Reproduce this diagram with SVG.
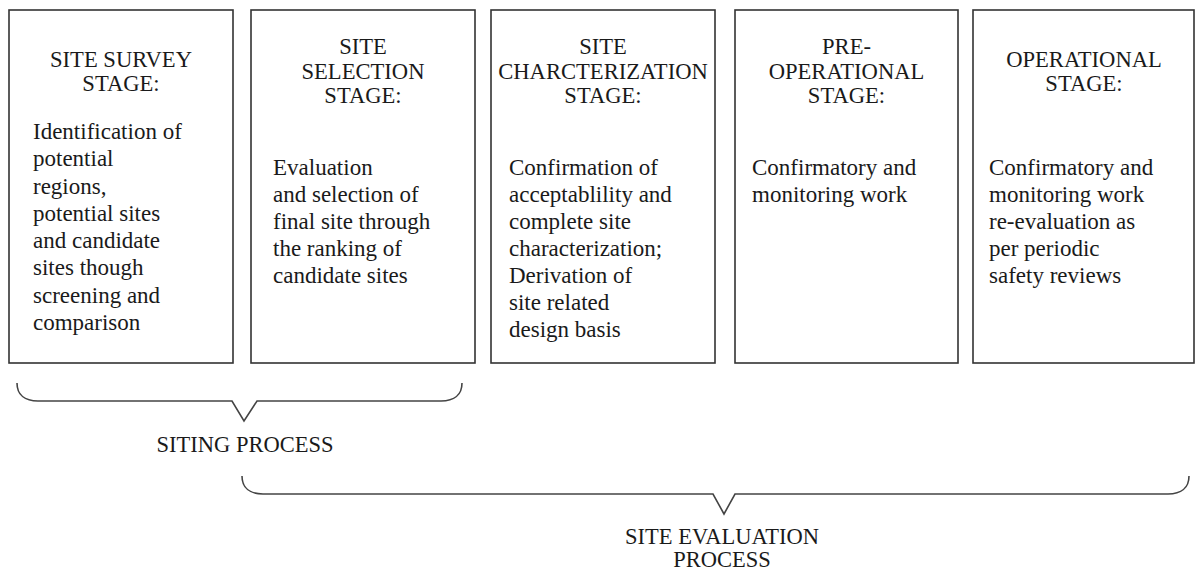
<svg xmlns="http://www.w3.org/2000/svg" width="1196" height="570" viewBox="0 0 1196 570">
<style>
.box{fill:#fff;stroke:#333;stroke-width:1.6}
.t{font-family:"Liberation Serif","Times New Roman",serif;font-size:22.6px;fill:#1a1a1a;text-anchor:middle}
.b{font-family:"Liberation Serif","Times New Roman",serif;font-size:23px;fill:#1a1a1a}
.br{fill:none;stroke:#444;stroke-width:1.6;stroke-linejoin:miter}
.l{font-family:"Liberation Serif","Times New Roman",serif;font-size:22.5px;fill:#1a1a1a;text-anchor:middle}
</style>
<rect width="1196" height="570" fill="#fff"/>
<g id="survey">
<rect class="box" x="9" y="10" width="224" height="353"/>
<text class="t" x="121" y="67">SITE SURVEY</text>
<text class="t" x="121" y="91">STAGE:</text>
<text class="b" x="33" y="139">Identification of</text>
<text class="b" x="33" y="166">potential</text>
<text class="b" x="33" y="193.5">regions,</text>
<text class="b" x="33" y="221">potential sites</text>
<text class="b" x="33" y="248">and candidate</text>
<text class="b" x="33" y="275">sites though</text>
<text class="b" x="33" y="302.5">screening and</text>
<text class="b" x="33" y="330">comparison</text>
</g>
<g id="selection">
<rect class="box" x="251" y="10" width="224" height="353"/>
<text class="t" x="363" y="54">SITE</text>
<text class="t" x="363" y="79">SELECTION</text>
<text class="t" x="363" y="103">STAGE:</text>
<text class="b" x="273" y="175">Evaluation</text>
<text class="b" x="273" y="202">and selection of</text>
<text class="b" x="273" y="229">final site through</text>
<text class="b" x="273" y="256">the ranking of</text>
<text class="b" x="273" y="283">candidate sites</text>
</g>
<g id="characterization">
<rect class="box" x="491" y="10" width="224" height="353"/>
<text class="t" x="603" y="54">SITE</text>
<text class="t" x="603" y="79">CHARCTERIZATION</text>
<text class="t" x="603" y="103">STAGE:</text>
<text class="b" x="509" y="175">Confirmation of</text>
<text class="b" x="509" y="202">acceptablility and</text>
<text class="b" x="509" y="229">complete site</text>
<text class="b" x="509" y="256">characterization;</text>
<text class="b" x="509" y="283">Derivation of</text>
<text class="b" x="509" y="310">site related</text>
<text class="b" x="509" y="337">design basis</text>
</g>
<g id="preoperational">
<rect class="box" x="735" y="10" width="223" height="353"/>
<text class="t" x="846.5" y="54">PRE-</text>
<text class="t" x="846.5" y="79">OPERATIONAL</text>
<text class="t" x="846.5" y="103">STAGE:</text>
<text class="b" x="752" y="175">Confirmatory and</text>
<text class="b" x="752" y="202">monitoring work</text>
</g>
<g id="operational">
<rect class="box" x="973" y="10" width="221" height="353"/>
<text class="t" x="1084" y="67">OPERATIONAL</text>
<text class="t" x="1084" y="91">STAGE:</text>
<text class="b" x="989" y="175">Confirmatory and</text>
<text class="b" x="989" y="202">monitoring work</text>
<text class="b" x="989" y="229">re-evaluation as</text>
<text class="b" x="989" y="256">per periodic</text>
<text class="b" x="989" y="283">safety reviews</text>
</g>
<g id="connectors">
<path class="br" d="M17,383 C17,395 25,401 38,401 H232 L244,421 L257,401 H441 C454,401 462,395 462,383"/>
<path class="br" d="M242,476 C242,488 250,494 263,494 H713 L724,514 L735,494 H1168 C1181,494 1189,488 1189,476"/>
</g>
<g id="labels">
<text class="l" x="245" y="452">SITING PROCESS</text>
<text class="l" x="722" y="544">SITE EVALUATION</text>
<text class="l" x="722" y="567">PROCESS</text>
</g>
</svg>
